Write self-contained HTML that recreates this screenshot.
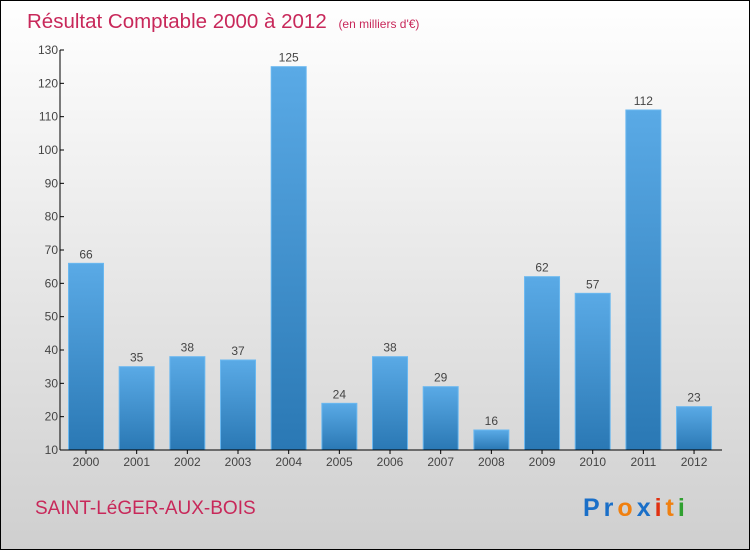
<!DOCTYPE html>
<html><head><meta charset="utf-8"><style>
body{margin:0;width:750px;height:550px;overflow:hidden}
svg{display:block;font-family:"Liberation Sans",sans-serif}
</style></head><body>
<svg width="750" height="550">
<defs>
<linearGradient id="bg" x1="0" y1="0" x2="0" y2="1"><stop offset="0" stop-color="#ffffff"/><stop offset="1" stop-color="#cfcfcf"/></linearGradient>
<linearGradient id="bar" x1="0" y1="0" x2="0" y2="1"><stop offset="0" stop-color="#5aaae6"/><stop offset="1" stop-color="#2a78b4"/></linearGradient>
</defs>
<rect x="0.5" y="0.5" width="749" height="549" fill="url(#bg)" stroke="#000"/>
<text x="27" y="28" font-size="20.5" fill="#c8285a">Résultat Comptable 2000 à 2012 <tspan font-size="12" dx="6">(en milliers d'€)</tspan></text>
<text x="35" y="514" font-size="19" fill="#c8285a">SAINT-LéGER-AUX-BOIS</text>
<text x="583" y="516" font-size="25" font-weight="bold" letter-spacing="4"><tspan fill="#1a6fc8">Pr</tspan><tspan fill="#f08010">o</tspan><tspan fill="#1a6fc8">x</tspan><tspan fill="#e03010">i</tspan><tspan fill="#f08010">t</tspan><tspan fill="#30a030">i</tspan></text>
<g id="plot"></g>
</svg>
<script>
const years=["2000","2001","2002","2003","2004","2005","2006","2007","2008","2009","2010","2011","2012"];
const values=[66,35,38,37,125,24,38,29,16,62,57,112,23];
const ticks=[10,20,30,40,50,60,70,80,90,100,110,120,130];
const ns="http://www.w3.org/2000/svg",g=document.getElementById('plot');
const y=v=>450-(v-10)*400/120, x=i=>86+i*50.67;
function mk(t,a){const e=document.createElementNS(ns,t);for(const k in a)e.setAttribute(k,a[k]);g.appendChild(e);return e;}
values.forEach((v,i)=>{
 const r=mk('rect',{x:x(i)-17.5,y:y(v),width:35,height:450-y(v),fill:'url(#bar)',stroke:'#6ab8f0','stroke-width':1});
 
 
 const t=mk('text',{x:x(i),y:y(v)-5,'text-anchor':'middle','font-size':12,fill:'#444'});t.textContent=v;
 
 
 const l=mk('text',{x:x(i),y:466,'text-anchor':'middle','font-size':12,fill:'#444'});l.textContent=years[i];
 
 
 mk('line',{x1:x(i),x2:x(i),y1:450,y2:454,stroke:'#000'});
});
ticks.forEach(v=>{
 mk('line',{x1:60,x2:64,y1:y(v),y2:y(v),stroke:'#000'});
 const t=mk('text',{x:58,y:y(v)+4,'text-anchor':'end','font-size':12,fill:'#444'});t.textContent=v;
 
 
});
const ya=mk('line',{x1:60,x2:60,y1:50,y2:450,stroke:'#000'});


const xa=mk('line',{x1:60,x2:722,y1:450,y2:450,stroke:'#000'});


</script>
</body></html>
